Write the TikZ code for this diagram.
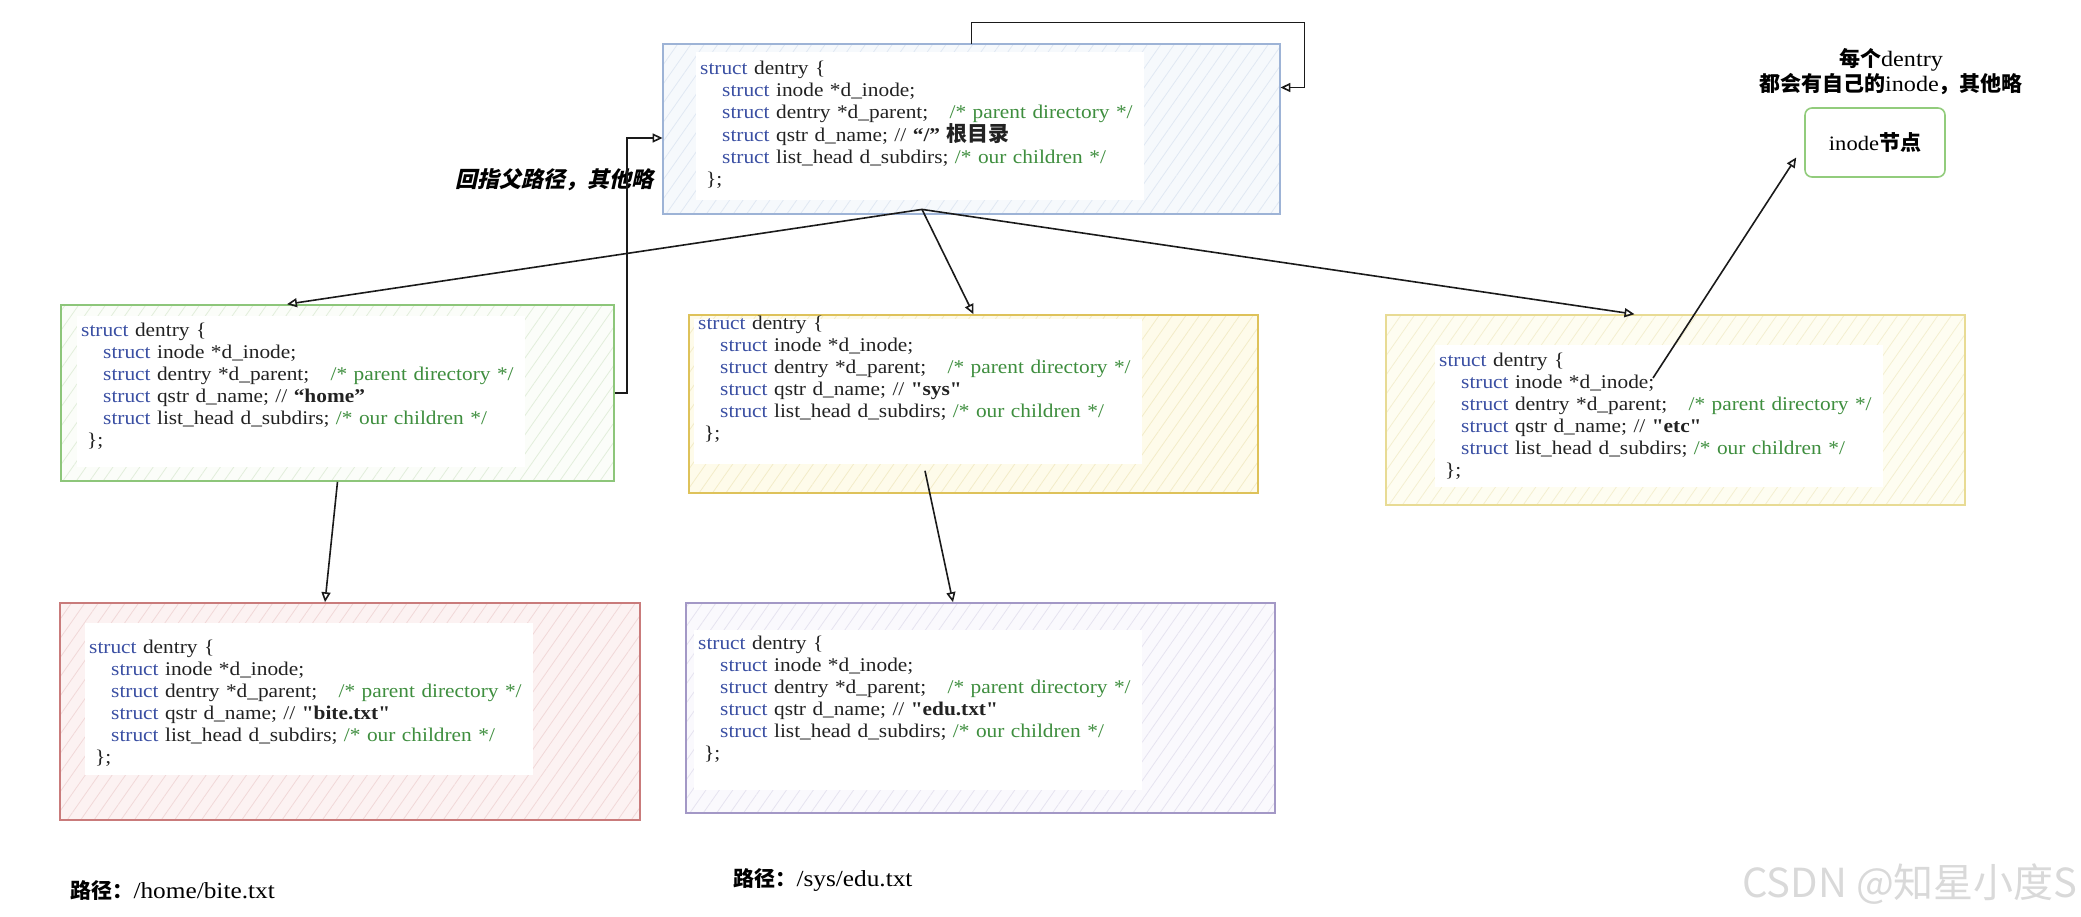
\documentclass[tikz,border=0pt]{standalone}
\usepackage{fontspec}
\usetikzlibrary{arrows.meta, calc, patterns.meta}
\newfontfamily\codefont{Liberation Serif}[FakeStretch=1.1]
\newfontfamily\cjk{Noto Sans CJK SC}
\newfontfamily\cjkslant{Noto Sans CJK SC}[FakeSlant=0.22]

\definecolor{kwblue}{HTML}{3A4FA3}
\definecolor{cmtgreen}{HTML}{3E8E3E}
\definecolor{codeblack}{HTML}{222222}
\definecolor{linkblack}{HTML}{1A1A1A}
\definecolor{rootline}{HTML}{9DB3D6}
\definecolor{rootfill}{HTML}{F6F9FC}
\definecolor{roothatch}{HTML}{E0E8F3}
\definecolor{homeline}{HTML}{8DC67A}
\definecolor{homefill}{HTML}{FBFDF9}
\definecolor{homehatch}{HTML}{E2EEDB}
\definecolor{sysline}{HTML}{DEC25A}
\definecolor{sysfill}{HTML}{FEFBEA}
\definecolor{syshatch}{HTML}{F3ECC8}
\definecolor{etcline}{HTML}{E8DB94}
\definecolor{etcfill}{HTML}{FEFDF1}
\definecolor{etchatch}{HTML}{F4EFD0}
\definecolor{biteline}{HTML}{C97B7B}
\definecolor{bitefill}{HTML}{FCF2F2}
\definecolor{bitehatch}{HTML}{F1D8D8}
\definecolor{eduline}{HTML}{A398C6}
\definecolor{edufill}{HTML}{FAF9FD}
\definecolor{eduhatch}{HTML}{E6E3F0}
\definecolor{inodeline}{HTML}{92CC7C}

\newlength\codeindent
\setlength{\codeindent}{22pt}
\newcommand{\kwstruct}{\textcolor{kwblue}{struct}}
\newcommand{\cmt}[1]{\textcolor{cmtgreen}{#1}}
\newcommand{\dentrycode}[1]{%
\mbox{\kwstruct\ dentry \{}\\
\mbox{\hspace*{\codeindent}\kwstruct\ inode *d\_inode;}\\
\mbox{\hspace*{\codeindent}\kwstruct\ dentry *d\_parent;\hspace{1.1em}\cmt{/* parent directory */}}\\
\mbox{\hspace*{\codeindent}\kwstruct\ qstr d\_name; // #1}\\
\mbox{\hspace*{\codeindent}\kwstruct\ list\_head d\_subdirs; \cmt{/* our children */}}\\
\mbox{\hspace*{0.3em}\};}}

\tikzstyle{frame} = [rectangle, line width=1.6pt, pattern={Lines[angle=55, distance=11pt, line width=0.8pt]}]
\tikzstyle{box} = [rectangle, line width=1.6pt, fill=white]
\tikzstyle{code} = [rectangle, fill=white, align=left, anchor=base west, text width=440pt, inner xsep=4pt, inner ysep=4pt, text=codeblack, font=\codefont\fontsize{19.4}{22}\selectfont]
\tikzstyle{link} = [line width=1.6pt, draw=linkblack, -{Triangle[open, length=10pt, width=9pt]}]
\tikzstyle{note} = [align=center, text=black, font=\cjk\bfseries\fontsize{21}{25}\selectfont]

\begin{document}
\begin{tikzpicture}[x=1pt, y=-1pt]
	\useasboundingbox (0,0) rectangle (2081,916);

	% Dentry frames
	\node (root) [frame, draw=rootline, preaction={fill=rootfill}, pattern color=roothatch, minimum width=617pt, minimum height=170pt] at (971.5,129) {};
	\node (home) [frame, draw=homeline, preaction={fill=homefill}, pattern color=homehatch, minimum width=553pt, minimum height=176pt] at (337.5,393) {};
	\node (sys) [frame, draw=sysline, preaction={fill=sysfill}, pattern color=syshatch, minimum width=569pt, minimum height=178pt] at (973.5,404) {};
	\node (etc) [frame, draw=etcline, preaction={fill=etcfill}, pattern color=etchatch, minimum width=579pt, minimum height=190pt] at (1675.5,410) {};
	\node (bite) [frame, draw=biteline, preaction={fill=bitefill}, pattern color=bitehatch, minimum width=580pt, minimum height=217pt] at (350,711.5) {};
	\node (edu) [frame, draw=eduline, preaction={fill=edufill}, pattern color=eduhatch, minimum width=589pt, minimum height=210pt] at (980.5,708) {};

	% Dentry code
	\node (rootcode) [code, text height=18pt, text depth=122pt] at (696,74) {\dentrycode{{\bfseries “/”} {\cjk\bfseries\fontsize{21}{22}\selectfont 根目录}}};
	\node (homecode) [code, text height=16pt, text depth=127pt] at (77,336) {\dentrycode{{\bfseries “home”}}};
	\node (syscode) [code, text height=6pt, text depth=131pt] at (694,329) {\dentrycode{{\bfseries "sys"}}};
	\node (etccode) [code, text height=17pt, text depth=117pt] at (1435,366) {\dentrycode{{\bfseries "etc"}}};
	\node (bitecode) [code, text height=26pt, text depth=118pt] at (85,653) {\dentrycode{{\bfseries "bite.txt"}}};
	\node (educode) [code, text height=15pt, text depth=137pt] at (694,649) {\dentrycode{{\bfseries "edu.txt"}}};

	% inode and notes
	\node (note) [note] at (1891,72) {每个{\codefont\mdseries\fontsize{22}{25}\selectfont dentry}\\都会有自己的{\codefont\mdseries\fontsize{22}{25}\selectfont inode}，其他略};
	\node (inode) [box, rounded corners=7pt, draw=inodeline, minimum width=140pt, minimum height=69pt] at (1875,142.5) {{\codefont\fontsize{20.5}{24}\selectfont inode}{\cjk\bfseries\fontsize{21}{24}\selectfont 节点}};
	\node (backnote) [font=\cjkslant\bfseries\fontsize{22}{26}\selectfont] at (554,180) {回指父路径，其他略};

	% Paths
	\node (homepath) [anchor=west, font=\fontsize{21}{25}\selectfont] at (67,890) {{\cjk\bfseries 路径：}{\codefont\fontsize{23}{26}\selectfont /home/bite.txt}};
	\node (syspath) [anchor=west, font=\fontsize{21}{25}\selectfont] at (730,880) {{\cjk\bfseries 路径：}{\codefont\fontsize{23}{26}\selectfont /sys/edu.txt}};
	\node (mark) [text=gray!30, font=\cjk\fontsize{40}{44}\selectfont] at (1910,884) {CSDN @知星小度S};

	% Arrows - children
	\coordinate (fork) at ($(root.south)+(-49.5,-5)$);
	\draw[link] (fork) -- ($(home.north)+(-50.5,0)$);
	\draw[link] (fork) -- (sys.north);
	\draw[link] (fork) -- ($(etc.north)+(-41,0)$);
	\draw[link] (home.south) -- ($(bite.north)+(-25,0)$);
	\coordinate (sysout) at ($(sys.south)+(-48.5,-23)$);
	\draw[link] (sysout) -- ($(edu.north)+(-27.5,0)$);

	% Arrows - parent and inode
	\coordinate (loopin) at ($(root.east)+(0,-41.5)$);
	\draw[link] (root.north) -- ++(0,-21) -| ($(loopin)+(24,0)$) -- (loopin);
	\draw[link] (home.east) -- ++(12,0) |- ($(root.west)+(0,9)$);
	\coordinate (etcinode) at (1653,378);
	\draw[link] (etcinode) -- ($(inode.west)+(-8,15)$);

\end{tikzpicture}
\end{document}
